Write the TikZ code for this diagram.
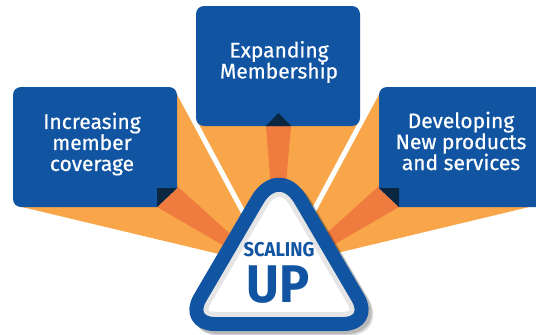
\documentclass[tikz,border=0pt]{standalone}
\usepackage{fontspec}
\setmainfont{Fira Sans}
\newfontfamily\boxfont[FakeBold=0.6]{Fira Sans}
\definecolor{boxblue}{RGB}{16,84,162}
\definecolor{beam}{RGB}{248,166,73}
\definecolor{ray}{RGB}{240,123,62}
\definecolor{fold}{RGB}{10,38,64}
\tikzset{
  box/.style={fill=boxblue, rounded corners=8pt},
  boxtext/.style={text=white, align=center, inner sep=0pt, font=\boxfont\fontsize{21}{21}\selectfont},
  gap/.style={draw=white, line width=5pt},
  signtext/.style={text=boxblue, inner sep=0pt},
}
% rounded sign, mid line of its blue rim
\def\signpath{(300.7,200.1) -- (358.05,298.1) .. controls (366.4,312.4) and (359.8,324) .. (343.2,324)
  -- (214.8,324) .. controls (198.2,324) and (191.6,312.4) .. (199.95,298.1)
  -- (257.3,200.1) .. controls (269.3,179.6) and (288.7,179.6) .. (300.7,200.1) -- cycle}
\begin{document}
\begin{tikzpicture}[x=1pt, y=-1pt]
  \useasboundingbox (0,0) rectangle (536,335);
  \clip (0,0) rectangle (536,335);
  \coordinate (focus) at (278,277);

  % beams
  \fill[beam] (22,207) -- (177,89) -- (focus) -- (265,265) -- cycle;
  \fill[beam] (193.6,120) -- (362.4,120) -- (focus) -- cycle;
  \fill[beam] (379,89) -- (546,203) -- (291,264) -- (focus) -- cycle;
  \coordinate (gapl) at (172.2,80);
  \coordinate (gapr) at (383.8,80);
  \draw[gap] (gapl) -- (focus);
  \draw[gap] (gapr) -- (focus);
  \fill[ray] (177,186) -- (157,207) -- (focus) -- cycle;
  \fill[ray] (266,126) -- (291,126) -- (focus) -- cycle;
  \fill[ray] (379,186) -- (399,207) -- (focus) -- cycle;

  % boxes
  \fill[box] (157,207) -- (13,207) -- (13,87) -- (177,87) -- (177,188);
  \fill[box] (196,6) rectangle (360,126);
  \fill[box] (399,207) -- (546,207) -- (546,87) -- (379,87) -- (379,188);
  \fill[fold] (157,188) -- (177,188) -- (157,207) -- cycle;
  \fill[fold] (266,126) -- (291,126) -- (278.5,113) -- cycle;
  \fill[fold] (379,188) -- (399,188) -- (399,207) -- cycle;

  \node[boxtext] (coverage) at (92,144) {Increasing\\member\\coverage};
  \node[boxtext] (membership) at (279,62) {Expanding\\Membership};
  \node[boxtext] (products) at (461,141) {Developing\\New products\\and services};

  % sign
  \foreach \s/\o in {5/0.08, 4/0.1, 3/0.12}
    \draw[black, fill=black, opacity=\o, line width=14pt, line join=round, shift={(\s,\s)}] \signpath;
  \fill[white] \signpath;
  \begin{scope}
    \clip \signpath;
    \draw[black!10, line width=24pt] \signpath;
  \end{scope}
  \draw[boxblue, line width=14pt, line join=round] \signpath;

  \node[signtext, font=\bfseries\fontsize{20}{20}\selectfont] (scaling) at (279,250) {\scalebox{0.92}[1]{SCALING}};
  \node[signtext, font=\bfseries\fontsize{53}{53}\selectfont] (up) at (278,285) {\scalebox{0.95}[1]{UP}};
\end{tikzpicture}
\end{document}
